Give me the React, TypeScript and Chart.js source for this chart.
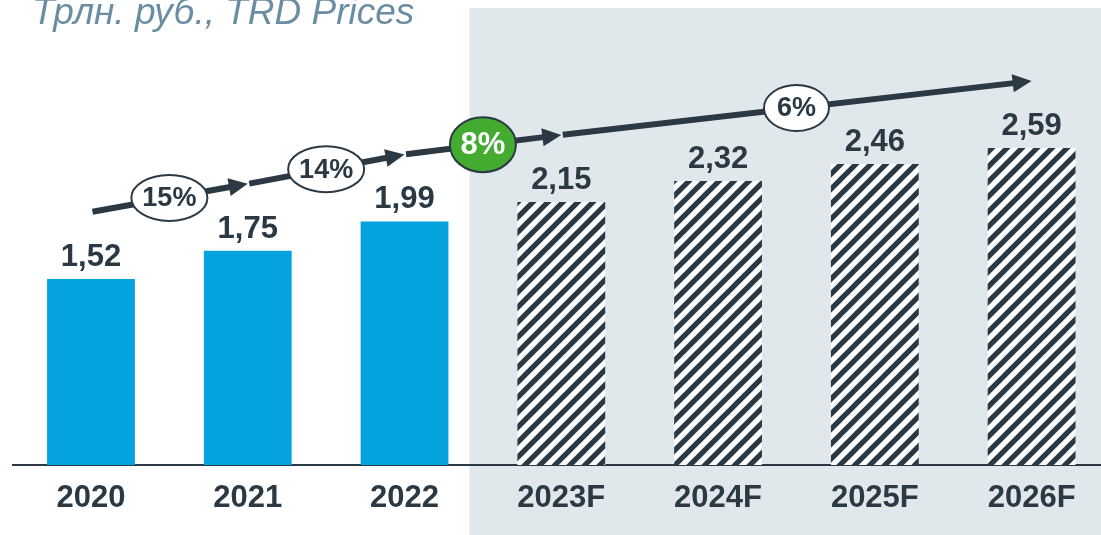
import React, { useEffect, useRef } from 'react';
import { Chart, registerables } from 'chart.js';

Chart.register(...registerables);

// ---- data ----
const categories = ['2020', '2021', '2022', '2023F', '2024F', '2025F', '2026F'];
const values = [1.52, 1.75, 1.99, 2.15, 2.32, 2.46, 2.59];
const forecastFlags = [false, false, false, true, true, true, true];
const growthLabels = ['15%', '14%', '8%', '6%'];
const growthFrom = [0, 1, 2, 3];
const growthTo = [1, 2, 3, 6];
const growthHighlight = [false, false, true, false];
const titleText = 'Трлн. руб., TRD Prices';
const yMin = 0;
const yMax = 3.8;

// ---- styles ----
const DARK = '#2b3944';
const BLUE = '#04a2df';
const PANEL = '#e1e8eb';
const GREEN = '#43ab2f';
const TITLE = '#6b8da3';
const FONT = '"Liberation Sans", Arial, sans-serif';

function makeHatch(): CanvasPattern | string {
  const s = 15;
  const c = document.createElement('canvas');
  c.width = s;
  c.height = s;
  const g = c.getContext('2d');
  if (!g) return '#ffffff';
  g.fillStyle = '#ffffff';
  g.fillRect(0, 0, s, s);
  g.strokeStyle = DARK;
  g.lineWidth = 5.2;
  g.beginPath();
  for (const k of [0, s, 2 * s]) {
    g.moveTo(-s, k + s);
    g.lineTo(k + s, -s);
  }
  g.stroke();
  const p = g.createPattern(c, 'repeat');
  return p || '#ffffff';
}

const fmt = (v: number) => v.toFixed(2).replace('.', ',');

const backgroundPlugin = {
  id: 'bgPanel',
  beforeDraw(chart: any) {
    const { ctx } = chart;
    const xs = chart.scales.x;
    const x2 = xs.getPixelForValue(2);
    const x3 = xs.getPixelForValue(3);
    const left = (x2 + x3) / 2 - 13.5;
    ctx.save();
    ctx.fillStyle = PANEL;
    ctx.fillRect(left, 8, chart.width - left, chart.height - 8);
    ctx.fillStyle = TITLE;
    ctx.font = `italic 37px ${FONT}`;
    ctx.textAlign = 'left';
    ctx.textBaseline = 'alphabetic';
    ctx.fillText(titleText, 32, 24);
    ctx.restore();
  },
};

const annotationPlugin = {
  id: 'annot',
  afterDatasetsDraw(chart: any) {
    const { ctx } = chart;
    const xs = chart.scales.x;
    const ys = chart.scales.y;
    const meta = chart.getDatasetMeta(0);
    ctx.save();
    // value labels
    ctx.fillStyle = DARK;
    ctx.font = `bold 31px ${FONT}`;
    ctx.textAlign = 'center';
    ctx.textBaseline = 'alphabetic';
    meta.data.forEach((bar: any, i: number) => {
      ctx.fillText(fmt(values[i]), bar.x, bar.y - 13);
    });

    // arrows
    const lift = 67;
    const head = 19;
    const halfW = 9;
    const segs = growthLabels.map((lab, k) => {
      const a = growthFrom[k];
      const b = growthTo[k];
      const x1 = xs.getPixelForValue(a);
      const y1 = ys.getPixelForValue(values[a]) - lift;
      const x2 = xs.getPixelForValue(b);
      const y2 = ys.getPixelForValue(values[b]) - lift;
      return { lab, x1, y1, x2, y2, hi: growthHighlight[k] };
    });
    segs.forEach((s) => {
      const dx = s.x2 - s.x1;
      const dy = s.y2 - s.y1;
      const len = Math.hypot(dx, dy);
      const ux = dx / len;
      const uy = dy / len;
      const bx = s.x2 - ux * head;
      const by = s.y2 - uy * head;
      ctx.strokeStyle = DARK;
      ctx.lineWidth = 6;
      ctx.lineCap = 'butt';
      ctx.beginPath();
      ctx.moveTo(s.x1 + ux * 1.5, s.y1 + uy * 1.5);
      ctx.lineTo(bx + ux, by + uy);
      ctx.stroke();
      ctx.fillStyle = DARK;
      ctx.beginPath();
      ctx.moveTo(s.x2, s.y2);
      ctx.lineTo(bx - uy * halfW, by + ux * halfW);
      ctx.lineTo(bx + uy * halfW, by - ux * halfW);
      ctx.closePath();
      ctx.fill();
    });
    // ovals
    segs.forEach((s) => {
      const cx = (s.x1 + s.x2) / 2;
      const cy = (s.y1 + s.y2) / 2;
      const size = s.hi ? 31 : 27;
      ctx.font = `bold ${size}px ${FONT}`;
      const tw = ctx.measureText(s.lab).width;
      const rx = s.hi ? 33 : Math.max(tw / 2 + 11, 32.5);
      const ry = s.hi ? 27.5 : 23;
      ctx.beginPath();
      ctx.ellipse(cx, cy, rx, ry, 0, 0, Math.PI * 2);
      ctx.fillStyle = s.hi ? GREEN : '#ffffff';
      ctx.fill();
      ctx.lineWidth = 2;
      ctx.strokeStyle = DARK;
      ctx.stroke();
      ctx.fillStyle = s.hi ? '#ffffff' : DARK;
      ctx.textAlign = 'center';
      ctx.textBaseline = 'middle';
      ctx.fillText(s.lab, cx, cy + 1);
    });
    ctx.restore();
  },
};

export default function App() {
  const ref = useRef<HTMLCanvasElement | null>(null);

  useEffect(() => {
    if (!ref.current) return;
    const hatch = makeHatch();
    const chart = new Chart(ref.current, {
      type: 'bar',
      data: {
        labels: categories,
        datasets: [
          {
            data: values,
            backgroundColor: values.map((_, i) => (forecastFlags[i] ? hatch : BLUE)) as any,
            borderWidth: 0,
            barPercentage: 0.56,
            categoryPercentage: 1,
          },
        ],
      },
      options: {
        responsive: false,
        animation: false,
        devicePixelRatio: 1,
        layout: { padding: { left: 12.6, right: 0, top: 0, bottom: 0 } },
        plugins: {
          legend: { display: false },
          tooltip: { enabled: false },
          title: { display: false },
        },
        scales: {
          x: {
            type: 'category',
            z: 1,
            grid: { display: false, drawTicks: false },
            border: { display: true, color: DARK, width: 2 },
            ticks: {
              color: DARK,
              padding: 15,
              maxRotation: 0,
              autoSkip: false,
              font: { family: FONT, size: 31, weight: 'bold' },
            },
            afterFit: (scale: any) => {
              scale.height = 70;
            },
          },
          y: {
            display: false,
            min: yMin,
            max: yMax,
          },
        },
      },
      plugins: [backgroundPlugin, annotationPlugin],
    } as any);
    return () => chart.destroy();
  }, []);

  return (
    <div
      style={{
        position: 'absolute',
        left: 0,
        top: 0,
        width: 1101,
        height: 535,
        overflow: 'hidden',
        background: '#ffffff',
      }}
    >
      <canvas ref={ref} width={1110} height={535} style={{ display: 'block' }} />
    </div>
  );
}
